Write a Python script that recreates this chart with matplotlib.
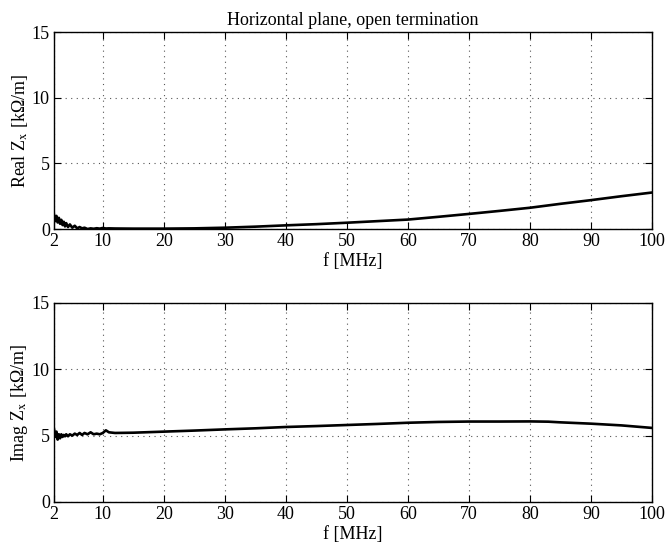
import numpy as np
import matplotlib
matplotlib.use("Agg")
import matplotlib.pyplot as plt

# --- datos ---
f_mhz = [2, 2.2, 2.4, 2.6, 2.8, 3.0, 3.2, 3.4, 3.6, 3.8, 4.0, 4.3, 4.6, 5.0,
         5.4, 5.8, 6.2, 6.6, 7.0, 7.5, 8.0, 8.5, 9.0, 9.5, 10, 10.5, 11, 12,
         15, 20, 25, 30, 35, 40, 45, 50, 55, 60, 65, 70, 75, 80, 83, 85, 90,
         95, 100]

real_zx = [1.1, 0.6, 1.0, 0.5, 0.85, 0.4, 0.7, 0.3, 0.55, 0.2, 0.45, 0.15,
           0.35, 0.1, 0.25, 0.05, 0.15, 0.05, 0.1, 0.0, 0.05, 0.02, 0.06,
           0.03, 0.08, 0.04, 0.05, 0.04, 0.03, 0.03, 0.05, 0.1, 0.18, 0.28,
           0.37, 0.48, 0.6, 0.72, 0.93, 1.15, 1.38, 1.62, 1.8, 1.92, 2.2,
           2.5, 2.78]

imag_zx = [5.5, 4.9, 5.3, 4.7, 5.1, 4.8, 5.1, 4.9, 5.05, 4.95, 5.1, 4.95,
           5.1, 5.0, 5.15, 5.05, 5.2, 5.05, 5.2, 5.1, 5.25, 5.1, 5.15, 5.1,
           5.2, 5.4, 5.25, 5.2, 5.22, 5.3, 5.38, 5.47, 5.55, 5.65, 5.72,
           5.8, 5.88, 5.97, 6.03, 6.06, 6.06, 6.07, 6.05, 6.0, 5.9, 5.77,
           5.58]

x_ticks = [2, 10, 20, 30, 40, 50, 60, 70, 80, 90, 100]
y_ticks = [0, 5, 10, 15]

plt.rcParams['font.family'] = ['Liberation Serif', 'DejaVu Serif']
plt.rcParams['mathtext.fontset'] = 'stix'
plt.rcParams['font.size'] = 13

fig = plt.figure(figsize=(6.65, 5.5), dpi=100)
ax1 = fig.add_axes([0.0812, 0.5836, 0.8993, 0.358])
ax2 = fig.add_axes([0.0812, 0.0873, 0.8993, 0.362])

for ax, datos, etiqueta in [(ax1, real_zx, 'Real Z$_{\\mathrm{x}}$ [k\u03a9/m]'),
                            (ax2, imag_zx, 'Imag Z$_{\\mathrm{x}}$ [k\u03a9/m]')]:
    ax.plot(f_mhz, datos, color='black', linewidth=1.9)
    ax.set_xlim(2, 100)
    ax.set_ylim(0, 15)
    ax.set_xticks(x_ticks)
    ax.set_yticks(y_ticks)
    ax.grid(True, linestyle=(0, (1, 4)), color='#555555', linewidth=0.8)
    ax.tick_params(direction='in', top=True, right=True, length=5, width=0.8, pad=3)
    for s in ax.spines.values():
        s.set_linewidth(1.0)
    ax.set_xlabel('f [MHz]', labelpad=2)
    ax.set_ylabel(etiqueta, labelpad=1)

ax1.set_title('Horizontal plane, open termination', fontsize=13, pad=5)

fig.savefig('out.png', dpi=100)
